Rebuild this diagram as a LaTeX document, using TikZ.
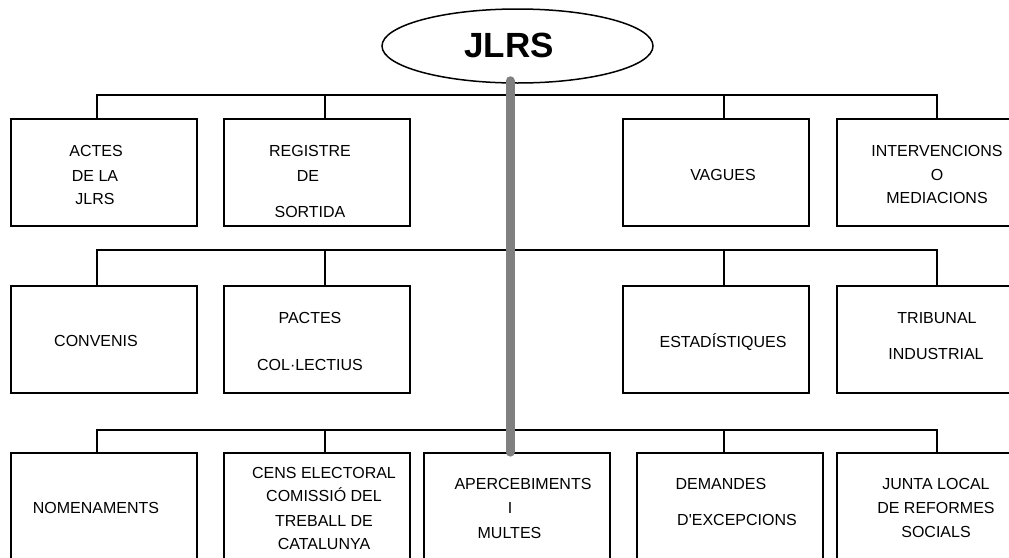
\documentclass[tikz,border=0pt]{standalone}
\usepackage{fontspec}
\setmainfont{Liberation Sans}
\usetikzlibrary{shapes.geometric}
\definecolor{barg}{RGB}{128,128,128}
\begin{document}
\begin{tikzpicture}[x=1pt,y=-1pt,
  box/.style={draw,line width=1.8pt,rectangle,minimum width=186pt,minimum height=107pt,inner sep=0pt},
  lbl/.style={anchor=base,inner sep=0pt,font=\fontsize{16}{19}\selectfont},
  conn/.style={line width=1.8pt},
  graybar/.style={line width=9pt,draw=barg,line cap=round}]
\useasboundingbox (0,0) rectangle (1009,557);
\clip (0,0) rectangle (1009,557);
\fill[white] (0,0) rectangle (1009,557);

% top ellipse
\node[ellipse,draw,line width=1.5pt,minimum width=271pt,minimum height=74pt,inner sep=0pt] (jlrs) at (517.5,46) {};
\node[anchor=base,inner sep=0pt,font=\fontsize{35}{40}\selectfont\bfseries] (jlrst) at (509,57.5) {JLRS};

% row 1
\node[box] (b11) at (104,172.5) {};
\node[box] (b12) at (317,172.5) {};
\node[box] (b13) at (716,172.5) {};
\node[box] (b14) at (930,172.5) {};
% row 2
\node[box] (b21) at (104,339.5) {};
\node[box] (b22) at (317,339.5) {};
\node[box] (b23) at (716,339.5) {};
\node[box] (b24) at (930,339.5) {};
% row 3
\node[box] (b31) at (104,506.5) {};
\node[box] (b32) at (317,506.5) {};
\node[box] (b33) at (517,506.5) {};
\node[box] (b34) at (730,506.5) {};
\node[box] (b35) at (930,506.5) {};

% bus levels and drop points
\coordinate (bus1) at (0,95);
\coordinate (bus2) at (0,250);
\coordinate (bus3) at (0,430);
\coordinate (p11) at (97,119);
\coordinate (p12) at (325,119);
\coordinate (p13) at (724,119);
\coordinate (p14) at (937,119);
\coordinate (p21) at (97,286);
\coordinate (p22) at (325,286);
\coordinate (p23) at (724,286);
\coordinate (p24) at (937,286);
\coordinate (p31) at (97,453);
\coordinate (p32) at (325,453);
\coordinate (p34) at (724,453);
\coordinate (p35) at (937,453);

\draw[conn] (p11) -- (p11 |- bus1) -- (p14 |- bus1) -- (p14);
\draw[conn] (p12) -- (p12 |- bus1);
\draw[conn] (p13) -- (p13 |- bus1);
\draw[conn] (p21) -- (p21 |- bus2) -- (p24 |- bus2) -- (p24);
\draw[conn] (p22) -- (p22 |- bus2);
\draw[conn] (p23) -- (p23 |- bus2);
\draw[conn] (p31) -- (p31 |- bus3) -- (p35 |- bus3) -- (p35);
\draw[conn] (p32) -- (p32 |- bus3);
\draw[conn] (p34) -- (p34 |- bus3);

% grey trunk
\draw[graybar] ([xshift=-7.5pt,yshift=3pt]jlrs.south) -- ([xshift=-7pt]b33.north);

% texts row 1
\node[lbl] (t11a) at (96,156) {ACTES};
\node[lbl] (t11b) at (95,181) {DE LA};
\node[lbl] (t11c) at (95,204) {JLRS};
\node[lbl] (t12a) at (310,156) {REGISTRE};
\node[lbl] (t12b) at (308,181) {DE};
\node[lbl] (t12c) at (310,217) {SORTIDA};
\node[lbl] (t13a) at (723,180) {VAGUES};
\node[lbl] (t14a) at (937,156) {INTERVENCIONS};
\node[lbl] (t14b) at (937,180) {O};
\node[lbl] (t14c) at (937,203) {MEDIACIONS};
% texts row 2
\node[lbl] (t21a) at (96,346) {CONVENIS};
\node[lbl] (t22a) at (310,323) {PACTES};
\node[lbl] (t22b) at (310,370) {COL·LECTIUS};
\node[lbl] (t23a) at (723,347) {ESTADÍSTIQUES};
\node[lbl] (t24a) at (937,323) {TRIBUNAL};
\node[lbl] (t24b) at (936,359) {INDUSTRIAL};
% texts row 3
\node[lbl] (t31a) at (96,513) {NOMENAMENTS};
\node[lbl] (t32a) at (324,478.5) {CENS ELECTORAL};
\node[lbl] (t32b) at (324,501.5) {COMISSIÓ DEL};
\node[lbl] (t32c) at (324,526) {TREBALL DE};
\node[lbl] (t32d) at (324,549) {CATALUNYA};
\node[lbl] (t33a) at (523,489) {APERCEBIMENTS};
\node[lbl] (t33b) at (510,513) {I};
\node[lbl] (t33c) at (509.5,538) {MULTES};
\node[lbl] (t34a) at (721,489) {DEMANDES};
\node[lbl] (t34b) at (737,525) {D\textquotesingle EXCEPCIONS};
\node[lbl] (t35a) at (936,489) {JUNTA LOCAL};
\node[lbl] (t35b) at (936,513) {DE REFORMES};
\node[lbl] (t35c) at (936,537) {SOCIALS};
\end{tikzpicture}
\end{document}
